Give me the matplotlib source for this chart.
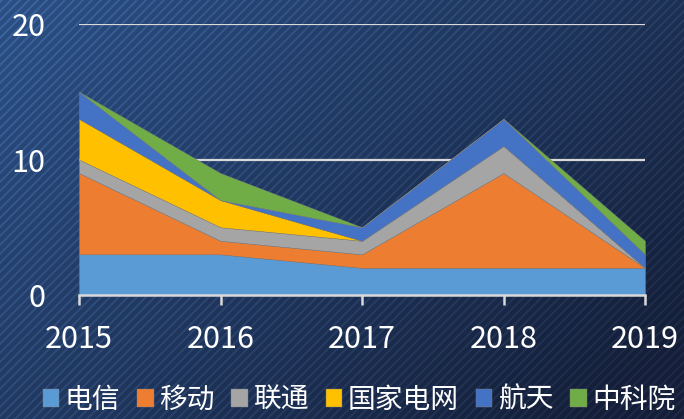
import numpy as np
import matplotlib
matplotlib.use("Agg")
import matplotlib.pyplot as plt

plt.rcParams["font.family"] = ["Noto Sans CJK SC", "DejaVu Sans"]

years = [2015, 2016, 2017, 2018, 2019]
names = ["电信", "移动", "联通", "国家电网", "航天", "中科院"]
dianxin = [3, 3, 2, 2, 2]
yidong = [6, 1, 1, 7, 0]
liantong = [1, 1, 1, 2, 0]
guojia = [3, 2, 0, 0, 0]
hangtian = [2, 0, 1, 2, 1]
zhongke = [0, 2, 0, 0, 1]
colors = ["#5B9BD5", "#ED7D31", "#A5A5A5", "#FFC000", "#4472C4", "#70AD47"]

W, H = 684, 419
fig = plt.figure(figsize=(W / 100, H / 100), dpi=100)

# striped dark-blue background
yy, xx = np.mgrid[0:H, 0:W]
t = np.clip(0.65 * xx / W + 0.45 * yy / H, 0, 1)
top = np.array([0.17, 0.31, 0.52])
bot = np.array([0.08, 0.12, 0.22])
bg = top[None, None, :] * (1 - t[..., None]) + bot[None, None, :] * t[..., None]
stripe = ((xx + yy) % 9) < 3
bg = bg + stripe[..., None] * np.array([0.06, 0.08, 0.10]) * (1 - 0.5 * t[..., None])
fig.figimage(np.clip(bg, 0, 1), xo=0, yo=0, origin="upper", zorder=-5)

ax = fig.add_axes([79 / W, 1 - 295 / H, (645 - 79) / W, (295 - 24) / H])
ax.set_zorder(2)
ax.set_facecolor("none")
ax.stackplot(years, dianxin, yidong, liantong, guojia, hangtian, zhongke,
             colors=colors, labels=names, lw=0.3, edgecolor="#7f7f7f", zorder=3)

ax.set_xlim(2015, 2019)
ax.set_ylim(0, 20)
ax.set_yticks([0, 10, 20])
ax.set_xticks(years)
ax.set_xticklabels([str(y) for y in years])
for yv in [10, 20]:
    ax.axhline(yv, color="#d9d9d9", lw=1.6, zorder=1)
for s in ["top", "right", "left"]:
    ax.spines[s].set_visible(False)
ax.spines["bottom"].set_color("#d9d9d9")
ax.spines["bottom"].set_linewidth(1.8)
ax.spines["bottom"].set_zorder(4)
ax.tick_params(axis="y", length=0, pad=24, labelsize=22, labelcolor="white")
ax.tick_params(axis="x", length=7, width=1.8, color="#d9d9d9", pad=14,
               labelsize=22, labelcolor="white")

leg = fig.legend(loc="lower center", bbox_to_anchor=(0.525, -0.05), ncol=6,
                 frameon=False, fontsize=20, handlelength=0.6, handleheight=0.6,
                 handletextpad=0.2, columnspacing=0.6, labelcolor="white")

fig.savefig("out.png", dpi=100)
